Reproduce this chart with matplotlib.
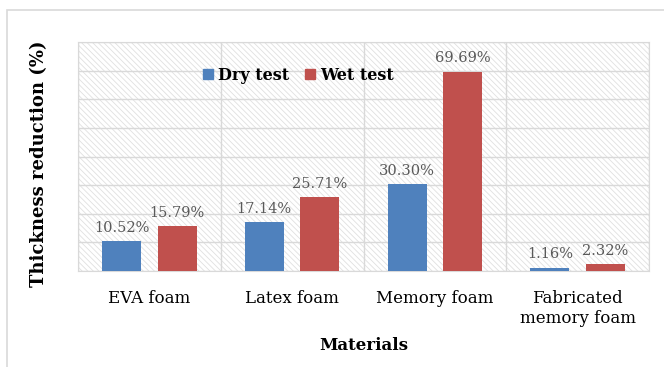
import matplotlib
matplotlib.use("Agg")
import matplotlib.pyplot as plt
import numpy as np
from matplotlib.patches import Rectangle, Patch

categories = ["EVA foam", "Latex foam", "Memory foam", "Fabricated\nmemory foam"]
dry = [10.52, 17.14, 30.30, 1.16]
wet = [15.79, 25.71, 69.69, 2.32]
dry_labels = ["10.52%", "17.14%", "30.30%", "1.16%"]
wet_labels = ["15.79%", "25.71%", "69.69%", "2.32%"]

plt.rcParams['font.family'] = ['DejaVu Serif']
plt.rcParams['hatch.color'] = '#e0e0e0'
plt.rcParams['hatch.linewidth'] = 0.6

fig = plt.figure(figsize=(6.64, 3.67), dpi=100)
W, H = 664, 367
ax = fig.add_axes([78/W, 1-271/H, (649-78)/W, (271-42)/H])

# figure frame
fig.patches.append(Rectangle((7/W, -0.1), 1.2, 1.1 - 10/H, transform=fig.transFigure,
                             fill=False, edgecolor='#d9d9d9', linewidth=1.2, zorder=0))

ax.set_xlim(0, 4)
ax.set_ylim(0, 80)
ax.add_patch(Rectangle((0, 0), 1, 1, transform=ax.transAxes, facecolor='white',
                       edgecolor='#e0e0e0', hatch='\\\\\\\\\\\\', linewidth=0, zorder=0))

x = np.arange(len(categories)) + 0.5
bw = 0.273
off = 0.195
ax.bar(x - off, dry, bw, color='#4F81BD', zorder=3)
ax.bar(x + off, wet, bw, color='#C0504D', zorder=3)

for xi, v, t in zip(x - off, dry, dry_labels):
    ax.text(xi, v + 2.2, t, ha='center', va='bottom', fontsize=10.5, color='#595959', zorder=4)
for xi, v, t in zip(x + off, wet, wet_labels):
    ax.text(xi, v + 2.2, t, ha='center', va='bottom', fontsize=10.5, color='#595959', zorder=4)

ax.set_yticks(np.arange(0, 81, 10))
ax.set_yticklabels([])
ax.set_xticks(np.arange(0, 5, 1))
ax.set_xticklabels([])
ax.grid(True, color='#d9d9d9', linewidth=1.0, zorder=1)
ax.tick_params(length=0)
for s in ax.spines.values():
    s.set_color('#d9d9d9')

for xi, c in zip(x, categories):
    ax.text(xi, -6.5, c, ha='center', va='top', fontsize=12, color='black',
            linespacing=1.25)

ax.set_xlabel("Materials", fontsize=12, fontweight='bold', labelpad=0)
ax.xaxis.set_label_coords(0.5, -0.29)
ax.set_ylabel("Thickness reduction (%)", fontsize=13, fontweight='bold')
ax.yaxis.set_label_coords(-0.052, 0.47)

handles = [Patch(color='#4F81BD'), Patch(color='#C0504D')]
ax.legend(handles, ["Dry test", "Wet test"], loc='center', bbox_to_anchor=(0.386, 0.855),
          ncol=2, frameon=False, prop={'weight': 'bold', 'size': 11.5},
          handlelength=0.65, handleheight=0.65, handletextpad=0.3, columnspacing=1.0)

fig.savefig("out.png", dpi=100)
